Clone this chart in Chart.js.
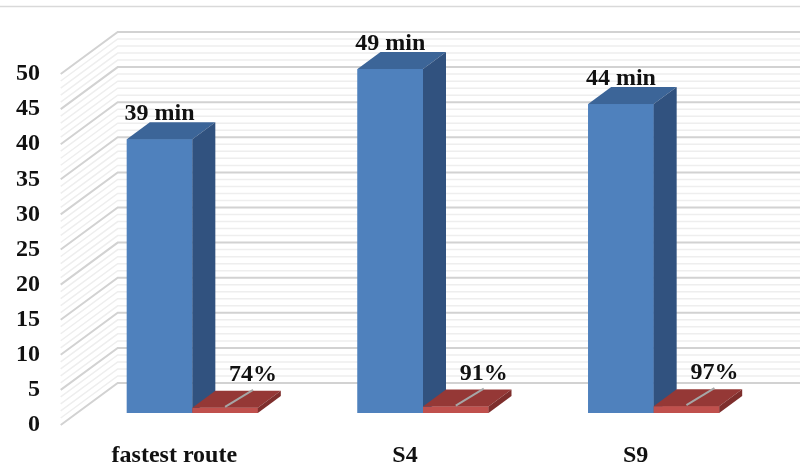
<!DOCTYPE html>
<html>
<head>
<meta charset="utf-8">
<script src="https://cdn.jsdelivr.net/npm/chart.js@4/dist/chart.umd.min.js"></script>
<style>
body{margin:0;background:#fff;}
canvas{display:block;}
</style>
</head>
<body>
<canvas id="graf" width="800" height="467"></canvas>
<script>
// dati
var categorie=["fastest route","S4","S9"];
var minuti=[39,49,44];
var quota=[0.74,0.91,0.97];
var tickY=[0,5,10,15,20,25,30,35,40,45,50];

// prospettiva (pixel)
var DX_BACK=40.7, DY_BACK=-30;   // parete di fondo rispetto al piano delle barre
var DX_FRONT=-16.3, DY_FRONT=12; // piano frontale (etichette)
var DX_BAR=23, DY_BAR=-17;       // profondita delle barre
var FONT='bold 24px "Liberation Serif", "Times New Roman", serif';

var colori=[
    {front:"#4f81bd", top:"#3c6598", side:"#31527f"},
    {front:"#c0504d", top:"#953836", side:"#7e2e2c"}
];

function disegnaBarra(ctx,el,c){
    var l=el.x-el.width/2, r=el.x+el.width/2, t=el.y, b=el.base;
    ctx.fillStyle=c.front;
    ctx.fillRect(l,t,r-l,b-t);
    ctx.fillStyle=c.top;
    ctx.beginPath();
    ctx.moveTo(l,t); ctx.lineTo(r,t); ctx.lineTo(r+DX_BAR,t+DY_BAR); ctx.lineTo(l+DX_BAR,t+DY_BAR);
    ctx.closePath(); ctx.fill();
    ctx.fillStyle=c.side;
    ctx.beginPath();
    ctx.moveTo(r,t); ctx.lineTo(r+DX_BAR,t+DY_BAR); ctx.lineTo(r+DX_BAR,b+DY_BAR); ctx.lineTo(r,b);
    ctx.closePath(); ctx.fill();
}

var pareti={
    id:"pareti",
    beforeDraw:function(chart){
        var ctx=chart.ctx;
        ctx.save();
        ctx.strokeStyle="#d9d9d9";
        ctx.lineWidth=1.5;
        ctx.beginPath(); ctx.moveTo(0,6.5); ctx.lineTo(chart.width,6.5); ctx.stroke();
        ctx.restore();
    },
    beforeDatasetsDraw:function(chart){
        var ctx=chart.ctx, a=chart.chartArea, y=chart.scales.y;
        ctx.save();
        for(var v=0;v<=50;v++){
            var yy=y.getPixelForValue(v);
            var major=(v%5==0);
            ctx.strokeStyle=major?"#d2d2d2":"#eeeeee";
            ctx.lineWidth=major?2:1.5;
            ctx.beginPath();
            ctx.moveTo(a.left+DX_FRONT,yy+DY_FRONT);
            ctx.lineTo(a.left+DX_BACK,yy+DY_BACK);
            ctx.lineTo(chart.width,yy+DY_BACK);
            ctx.stroke();
        }
        ctx.restore();
    },
    afterDatasetsDraw:function(chart){
        var ctx=chart.ctx;
        var m0=chart.getDatasetMeta(0), m1=chart.getDatasetMeta(1);
        ctx.save();
        for(var i=0;i<categorie.length;i++){
            disegnaBarra(ctx,m0.data[i],colori[0]);
            disegnaBarra(ctx,m1.data[i],colori[1]);
        }
        ctx.font=FONT;
        ctx.fillStyle="#111";
        ctx.textAlign="center";
        ctx.textBaseline="alphabetic";
        for(var i=0;i<categorie.length;i++){
            var e0=m0.data[i], e1=m1.data[i];
            ctx.fillText(minuti[i]+" min",e0.x,e0.y+DY_BAR-2.5);
            // linea guida della percentuale
            ctx.strokeStyle="#a6a6a6";
            ctx.lineWidth=2;
            ctx.beginPath();
            ctx.moveTo(e1.x,e1.y-1);
            ctx.lineTo(e1.x+28,e1.y-18);
            ctx.stroke();
            ctx.fillText(Math.round(quota[i]*100)+"%",e1.x+28,e1.y-27);
        }
        ctx.restore();
    }
};

var grafico=new Chart("graf",{
    type:"bar",
    data:{
        labels:categorie,
        datasets:[{
            data:minuti,
            backgroundColor:colori[0].front,
            categoryPercentage:0.568,
            barPercentage:1
        },{
            data:quota,
            backgroundColor:colori[1].front,
            categoryPercentage:0.568,
            barPercentage:1
        }]
    },
    options:{
        responsive:false,
        animation:false,
        devicePixelRatio:1,
        layout:{padding:{top:62,right:31,left:0,bottom:0}},
        plugins:{legend:{display:false},tooltip:{enabled:false}},
        scales:{
            x:{
                grid:{display:false,drawTicks:false},
                border:{display:false},
                ticks:{color:"#111",font:{family:'"Liberation Serif"',size:24,weight:"bold"},padding:28,labelOffset:-18,maxRotation:0},
                afterFit:function(s){s.height=54;}
            },
            y:{
                min:0,max:50,
                grid:{display:false,drawTicks:false},
                border:{display:false},
                ticks:{color:"#111",font:{family:'"Liberation Serif"',size:24,weight:"bold"},padding:37,labelOffset:12},
                afterBuildTicks:function(s){s.ticks=tickY.map(function(v){return {value:v};});},
                afterFit:function(s){s.width=77;}
            }
        }
    },
    plugins:[pareti]
});
</script>
</body>
</html>
